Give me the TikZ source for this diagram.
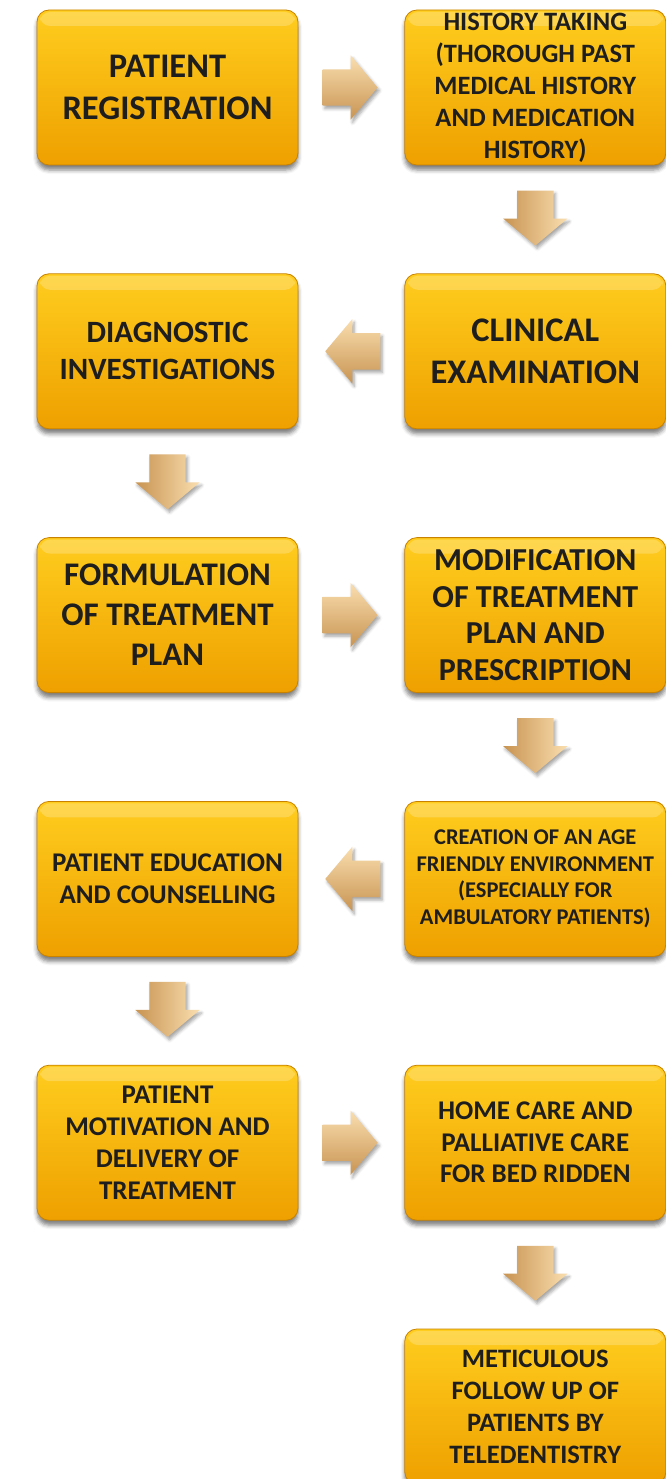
\documentclass[tikz,border=0pt]{standalone}
\usepackage{fontspec}
\setmainfont{Carlito}
\usetikzlibrary{positioning, calc, shapes.arrows, shadows.blur}
\definecolor{boxtop}{RGB}{255,205,30}
\definecolor{boxbot}{RGB}{238,160,0}
\definecolor{boxline}{RGB}{200,130,0}
\definecolor{arrlight}{RGB}{250,222,175}
\definecolor{arrdark}{RGB}{200,148,82}
\definecolor{txt}{RGB}{30,30,30}
\tikzset{
  stage/.style={rectangle, rounded corners=12pt, minimum width=261pt, minimum height=155pt,
    inner sep=0pt, top color=boxtop, bottom color=boxbot, draw=boxline, line width=0.8pt,
    align=center, text=txt,
    blur shadow={shadow xshift=0pt, shadow yshift=-5pt, shadow blur radius=4pt, shadow opacity=50},
    path picture={\fill[white, opacity=0.22, rounded corners=10pt]
      ([xshift=3pt, yshift=-2pt]path picture bounding box.north west) rectangle
      ([xshift=-3pt, yshift=-16pt]path picture bounding box.north east);}},
  fsize/.style 2 args={font=\bfseries\fontsize{#1}{#2}\selectfont},
  blockarrow/.style={single arrow, inner sep=18pt, minimum height=55pt, minimum width=64pt,
    single arrow head extend=14pt, single arrow tip angle=100, draw=none,
    blur shadow={shadow xshift=2pt, shadow yshift=-3pt, shadow blur radius=3pt, shadow opacity=35}},
  rarrow/.style={blockarrow, shape border rotate=0, xshift=-9pt, top color=arrlight, bottom color=arrdark},
  larrow/.style={blockarrow, shape border rotate=180, xshift=9pt, top color=arrlight, bottom color=arrdark},
  darrow/.style={blockarrow, shape border rotate=270, yshift=9pt, left color=arrdark, right color=arrlight},
}

\begin{document}
\begin{tikzpicture}[x=1pt, y=1pt, node distance=108pt and 106pt]
  \useasboundingbox (0,0) rectangle (665,-1479);
  % stages
  \node[stage, fsize={34.5}{42}] (reg) at (167.5,-87.5) {PATIENT\\REGISTRATION};
  \node[stage, fsize={26.5}{32}, right=of reg] (hist) {HISTORY TAKING\\(THOROUGH PAST\\MEDICAL HISTORY\\AND MEDICATION\\HISTORY)};
  \node[stage, fsize={34.5}{42}, below=of hist] (exam) {CLINICAL\\EXAMINATION};
  \node[stage, fsize={31}{37}, left=of exam] (diag) {DIAGNOSTIC\\INVESTIGATIONS};
  \node[stage, fsize={33}{40}, below=of diag] (form) {FORMULATION\\OF TREATMENT\\PLAN};
  \node[stage, fsize={32}{36.7}, right=of form] (modi) {MODIFICATION\\OF TREATMENT\\PLAN AND\\PRESCRIPTION};
  \node[stage, fsize={22.5}{26.7}, below=of modi] (age) {CREATION OF AN AGE\\FRIENDLY ENVIRONMENT\\(ESPECIALLY FOR\\AMBULATORY PATIENTS)};
  \node[stage, fsize={27}{32}, left=of age] (educ) {PATIENT EDUCATION\\AND COUNSELLING};
  \node[stage, fsize={27}{31.7}, below=of educ] (motiv) {PATIENT\\MOTIVATION AND\\DELIVERY OF\\TREATMENT};
  \node[stage, fsize={27}{31.5}, right=of motiv] (home) {HOME CARE AND\\PALLIATIVE CARE\\FOR BED RIDDEN};
  \node[stage, fsize={26.6}{32}, below=of home] (follow) {METICULOUS\\FOLLOW UP OF\\PATIENTS BY\\TELEDENTISTRY};
  % arrows
  \node[rarrow] (a1) at ($(reg.east)!.5!(hist.west)$) {};
  \node[darrow] (a2) at ($(hist.south)!.5!(exam.north)$) {};
  \node[larrow] (a3) at ($(exam.west)!.5!(diag.east)$) {};
  \node[darrow] (a4) at ($(diag.south)!.5!(form.north)$) {};
  \node[rarrow] (a5) at ($(form.east)!.5!(modi.west)$) {};
  \node[darrow] (a6) at ($(modi.south)!.5!(age.north)$) {};
  \node[larrow] (a7) at ($(age.west)!.5!(educ.east)$) {};
  \node[darrow] (a8) at ($(educ.south)!.5!(motiv.north)$) {};
  \node[rarrow] (a9) at ($(motiv.east)!.5!(home.west)$) {};
  \node[darrow] (a10) at ($(home.south)!.5!(follow.north)$) {};
\end{tikzpicture}
\end{document}
